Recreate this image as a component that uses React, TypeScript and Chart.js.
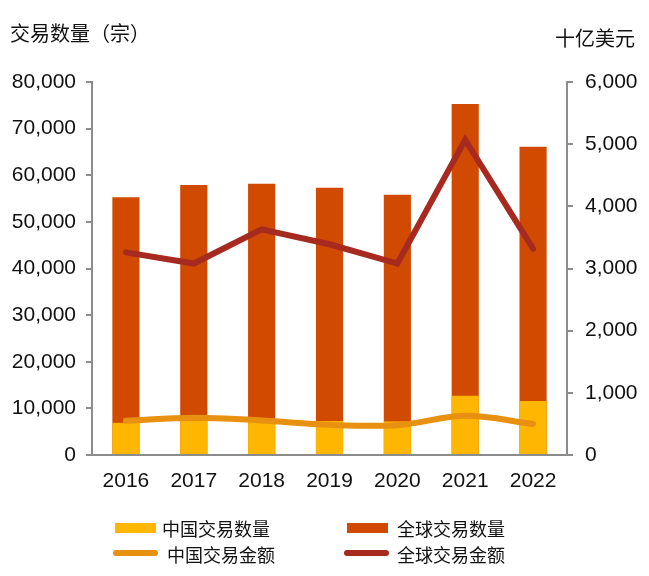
import React, { useEffect, useRef } from "react";
import { Chart, registerables } from "chart.js";

Chart.register(...registerables);

const years = ["2016", "2017", "2018", "2019", "2020", "2021", "2022"];
const chinaDeals = [6900, 7400, 7650, 7300, 7200, 12700, 11600];
const globalDeals = [55300, 57900, 58200, 57300, 55800, 75300, 66100];
const chinaValue = [550, 600, 555, 485, 480, 630, 500];
const globalValue = [3260, 3080, 3630, 3390, 3080, 5070, 3320];

const leftTicks = { min: 0, max: 80000, step: 10000 };
const rightTicks = { min: 0, max: 6000, step: 1000 };

const C_CHINA_BAR = "#FFB600";
const C_GLOBAL_BAR = "#D04A02";
const C_CHINA_LINE = "#E8900F";
const C_GLOBAL_LINE = "#A62A20";
const AXIS = "#8c8c8c";
const LATIN = "'Liberation Sans', Arial, sans-serif";
const CJK = "'Noto Sans CJK SC', 'Liberation Sans', sans-serif";

const fmt = (v: any) => Number(v).toLocaleString("en-US");

export default function App() {
  const ref = useRef<HTMLCanvasElement | null>(null);

  useEffect(() => {
    if (!ref.current) return;
    const chart = new Chart(ref.current, {
      type: "bar",
      data: {
        labels: years,
        datasets: [
          {
            type: "line",
            label: "中国交易金额",
            data: chinaValue,
            yAxisID: "y1",
            borderColor: C_CHINA_LINE,
            backgroundColor: C_CHINA_LINE,
            borderWidth: 6,
            pointRadius: 0,
            tension: 0.35,
            borderCapStyle: "round",
            order: 0,
          } as any,
          {
            type: "line",
            label: "全球交易金额",
            data: globalValue,
            yAxisID: "y1",
            borderColor: C_GLOBAL_LINE,
            backgroundColor: C_GLOBAL_LINE,
            borderWidth: 6,
            pointRadius: 0,
            tension: 0,
            borderCapStyle: "round",
            order: 0,
          } as any,
          {
            label: "中国交易数量",
            data: chinaDeals,
            yAxisID: "y",
            backgroundColor: C_CHINA_BAR,
            grouped: false,
            barPercentage: 0.4,
            categoryPercentage: 1,
            order: 1,
          } as any,
          {
            label: "全球交易数量",
            data: globalDeals,
            yAxisID: "y",
            backgroundColor: C_GLOBAL_BAR,
            grouped: false,
            barPercentage: 0.4,
            categoryPercentage: 1,
            order: 2,
          } as any,
        ],
      },
      options: {
        responsive: false,
        animation: false,
        layout: { padding: { top: 74, left: 0, right: 0, bottom: 0 } },
        plugins: {
          legend: { display: false },
          tooltip: { enabled: false },
          title: { display: false },
        },
        scales: {
          x: {
            grid: { display: false, drawTicks: false },
            border: { display: true, color: AXIS, width: 2 },
            ticks: {
              color: "#111",
              font: { family: LATIN, size: 21 },
              padding: 14,
              maxRotation: 0,
            },
            afterFit: (s: any) => {
              s.height = 113;
            },
          },
          y: {
            position: "left",
            min: leftTicks.min,
            max: leftTicks.max,
            grid: {
              drawOnChartArea: false,
              drawTicks: true,
              tickLength: 6,
              color: AXIS,
              lineWidth: 2,
            },
            border: { display: true, color: AXIS, width: 2 },
            ticks: {
              stepSize: leftTicks.step,
              color: "#111",
              font: { family: LATIN, size: 21 },
              padding: 10,
              callback: fmt,
            },
            afterFit: (s: any) => {
              s.width = 84;
            },
          },
          y1: {
            position: "right",
            min: rightTicks.min,
            max: rightTicks.max,
            grid: {
              drawOnChartArea: false,
              drawTicks: true,
              tickLength: 6,
              color: AXIS,
              lineWidth: 2,
            },
            border: { display: true, color: AXIS, width: 2 },
            ticks: {
              stepSize: rightTicks.step,
              color: "#111",
              font: { family: LATIN, size: 21 },
              padding: 12,
              callback: fmt,
            },
            afterFit: (s: any) => {
              s.width = 74;
            },
          },
        },
      } as any,
    });
    return () => chart.destroy();
  }, []);

  const text = (
    label: string,
    left: number,
    cy: number,
    size: number,
    extra: React.CSSProperties = {}
  ) => (
    <div
      style={{
        position: "absolute",
        left,
        top: cy - size * 0.7,
        height: size * 1.4,
        lineHeight: `${size * 1.4}px`,
        fontSize: size,
        fontFamily: CJK,
        color: "#111",
        whiteSpace: "nowrap",
        ...extra,
      }}
    >
      {label}
    </div>
  );

  const box = (left: number, top: number, w: number, h: number, color: string, radius = 0) => (
    <div
      style={{
        position: "absolute",
        left,
        top,
        width: w,
        height: h,
        background: color,
        borderRadius: radius,
      }}
    />
  );

  return (
    <div style={{ position: "relative", width: 633, height: 560 }}>
      <canvas ref={ref} width={633} height={560} style={{ display: "block" }} />
      {text("交易数量（宗）", 2, 25, 20)}
      <div
        style={{
          position: "absolute",
          right: 6,
          top: 30 - 14,
          height: 28,
          lineHeight: "28px",
          fontSize: 20,
          fontFamily: CJK,
          color: "#111",
          whiteSpace: "nowrap",
        }}
      >
        十亿美元
      </div>
      {box(107, 515, 41, 10, C_CHINA_BAR)}
      {text("中国交易数量", 154, 521, 18)}
      {box(339, 515, 41, 10, C_GLOBAL_BAR)}
      {text("全球交易数量", 389, 521, 18)}
      {box(105, 542, 45, 6, C_CHINA_LINE, 3)}
      {text("中国交易金额", 159, 547, 18)}
      {box(336, 542, 45, 6, C_GLOBAL_LINE, 3)}
      {text("全球交易金额", 389, 547, 18)}
    </div>
  );
}
